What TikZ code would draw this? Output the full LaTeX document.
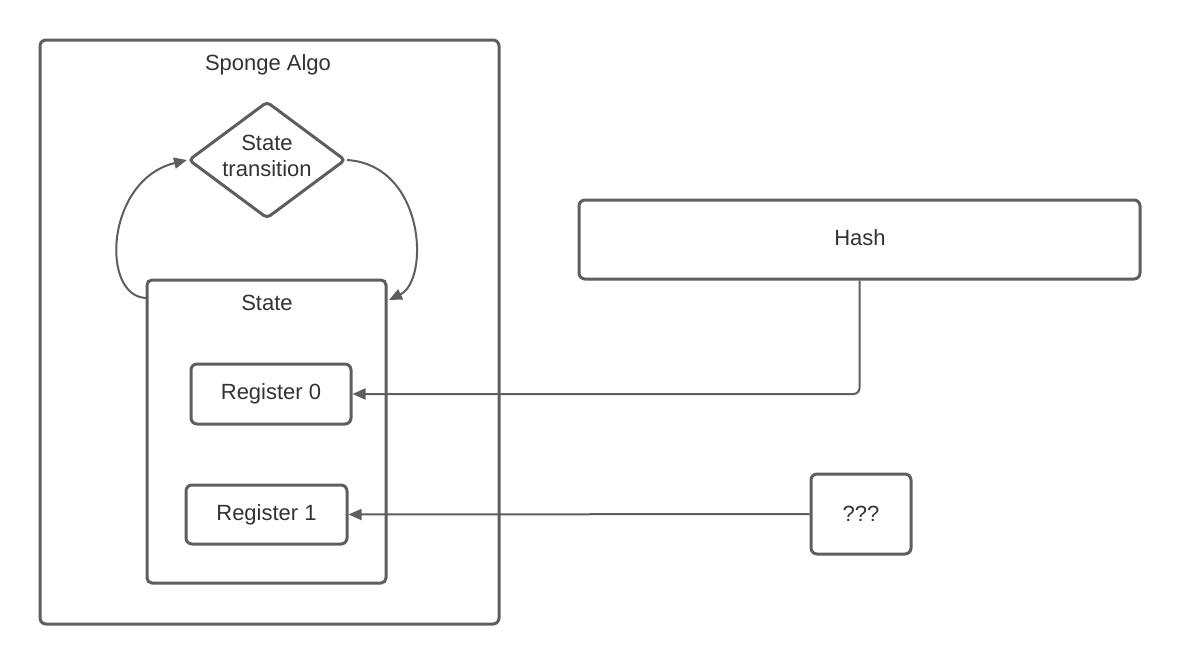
\documentclass[tikz,border=0pt]{standalone}
\usepackage{fontspec}
\setmainfont{Liberation Sans}
\usetikzlibrary{arrows.meta,shapes.geometric}
\definecolor{ln}{HTML}{5E5E5E}
\definecolor{tx}{HTML}{333333}
\tikzset{
  box/.style={draw=ln, line width=3pt, rounded corners=6pt, fill=white, text=tx, font=\fontsize{22}{26}\selectfont},
  lbl/.style={text=tx, font=\fontsize{22}{26}\selectfont},
  conn/.style={draw=ln, line width=2pt, -{Triangle[length=13pt,width=11pt]}},
}
\begin{document}
\begin{tikzpicture}[x=1pt,y=-1pt]
\useasboundingbox (0,0) rectangle (1180,665);
\fill[white] (0,0) rectangle (1180,665);
% outer
\draw[draw=ln, line width=3pt, rounded corners=6pt] (40,40) rectangle (499,624);
\node[lbl] (sponge) at (268,65) {Sponge Algo};
% state box
\draw[draw=ln, line width=3pt, rounded corners=5pt] (147,280) rectangle (386,583);
\coordinate (stateL) at (147,298);
\coordinate (stateR) at (389,300);
\node[lbl] (state) at (267,303) {State};
% diamond
\node[diamond, draw=ln, line width=3pt, rounded corners=4pt, minimum width=157pt, minimum height=117pt, inner sep=0pt] (trans) at (267,160) {};
\node[text=tx, align=center, font=\fontsize{22}{26}\selectfont] (transtext) at (267,156) {State\\transition};
% registers
\node[box, minimum width=160pt, minimum height=60pt] (r0) at (271,394) {Register 0};
\node[box, minimum width=161pt, minimum height=59pt] (r1) at (266.5,514.5) {Register 1};
% hash
\node[box, minimum width=561pt, minimum height=79pt] (hash) at (859.5,239.5) {};
\node[lbl] (hashtext) at (860,238) {Hash};
\node[box, minimum width=100pt, minimum height=80pt] (q) at (861,514) {???};
% connectors
\draw[conn, rounded corners=6pt] (hash.south) |- (r0.east);
\draw[conn] (q.west) -- (r1.east);
\draw[conn] (stateL) .. controls (100,298) and (105,180) .. (trans.west);
\draw[conn] (trans.east) .. controls (425,165) and (430,280) .. (stateR);
\end{tikzpicture}
\end{document}
